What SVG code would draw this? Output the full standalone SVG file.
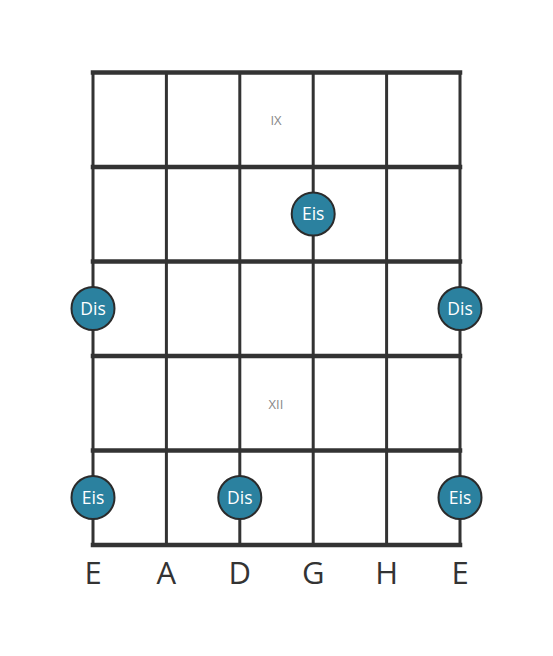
<svg xmlns="http://www.w3.org/2000/svg" width="553" height="656" viewBox="0 0 553 656">
<style>
.fret{stroke:#333;stroke-width:4.5;stroke-linecap:square}
.str{stroke:#333;stroke-width:3}
.note circle{fill:#2b819f;stroke:#2b2b2b;stroke-width:2}
.note text{fill:#fff;font-family:"Open Sans",sans-serif;font-size:17.5px;text-anchor:middle}
.pos{fill:#888;font-family:"Open Sans",sans-serif;font-size:13px;text-anchor:middle}
.sname{fill:#333;font-family:"Open Sans",sans-serif;font-size:31px;text-anchor:middle}
</style>
<rect width="553" height="656" fill="#fff"/>
<g id="grid">
<line class="str" x1="93" y1="72" x2="93" y2="545"/>
<line class="str" x1="166.4" y1="72" x2="166.4" y2="545"/>
<line class="str" x1="239.8" y1="72" x2="239.8" y2="545"/>
<line class="str" x1="313.2" y1="72" x2="313.2" y2="545"/>
<line class="str" x1="386.6" y1="72" x2="386.6" y2="545"/>
<line class="str" x1="460" y1="72" x2="460" y2="545"/>
<line class="fret" x1="93" y1="72.5" x2="460" y2="72.5"/>
<line class="fret" x1="93" y1="167" x2="460" y2="167"/>
<line class="fret" x1="93" y1="261.5" x2="460" y2="261.5"/>
<line class="fret" x1="93" y1="356" x2="460" y2="356"/>
<line class="fret" x1="93" y1="450.5" x2="460" y2="450.5"/>
<line class="fret" x1="93" y1="545" x2="460" y2="545"/>
</g>
<g id="positions">
<text class="pos" x="276" y="125">IX</text>
<text class="pos" x="276" y="409">XII</text>
</g>
<g id="n1" class="note"><circle cx="313.2" cy="214" r="21.5"/><text x="313.2" y="220">Eis</text></g>
<g id="n2" class="note"><circle cx="93" cy="308.5" r="21.5"/><text x="93" y="314.5">Dis</text></g>
<g id="n3" class="note"><circle cx="460" cy="308.5" r="21.5"/><text x="460" y="314.5">Dis</text></g>
<g id="n4" class="note"><circle cx="93" cy="497.5" r="21.5"/><text x="93" y="503.5">Eis</text></g>
<g id="n5" class="note"><circle cx="239.8" cy="497.5" r="21.5"/><text x="239.8" y="503.5">Dis</text></g>
<g id="n6" class="note"><circle cx="460" cy="497.5" r="21.5"/><text x="460" y="503.5">Eis</text></g>
<g id="strings">
<text class="sname" x="93" y="584">E</text>
<text class="sname" x="166.4" y="584">A</text>
<text class="sname" x="239.8" y="584">D</text>
<text class="sname" x="313.2" y="584">G</text>
<text class="sname" x="386.6" y="584">H</text>
<text class="sname" x="460" y="584">E</text>
</g>
</svg>
